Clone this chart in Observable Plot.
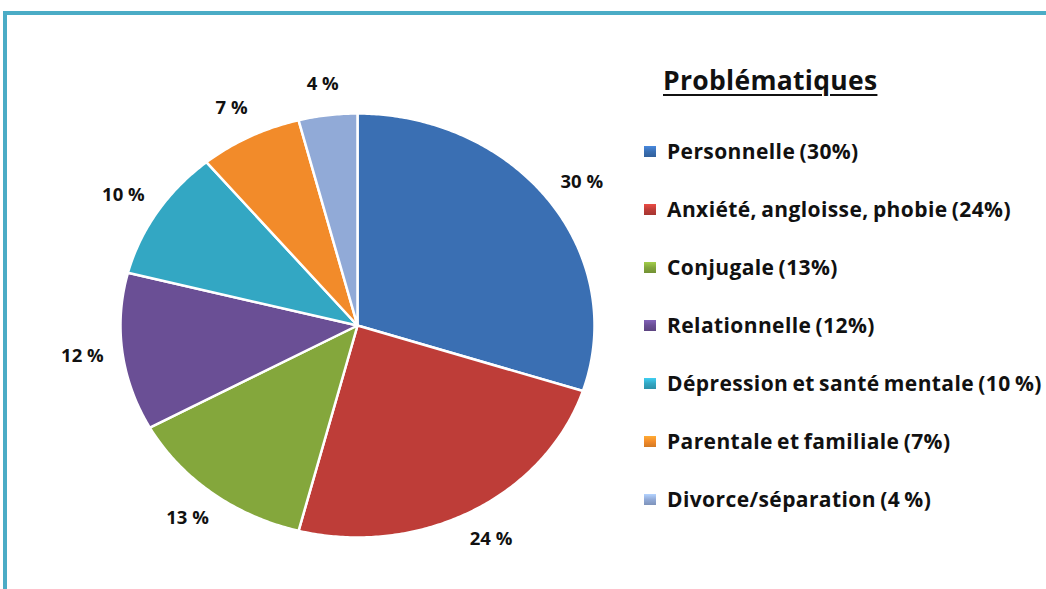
<!DOCTYPE html>
<html>
<head>
<meta charset="utf-8">
<script src="https://cdn.jsdelivr.net/npm/d3@7"></script>
<script src="https://cdn.jsdelivr.net/npm/@observablehq/plot@0.6"></script>
<style>
  html, body { margin: 0; padding: 0; background: #fff; }
  body { width: 1046px; height: 589px; position: relative; overflow: hidden; font-family: "Open Sans", "DejaVu Sans", sans-serif; }
  #frame { position: absolute; left: 3px; top: 11px; width: 1060px; height: 600px; border-top: 4px solid #4bacc6; border-left: 4px solid #4bacc6; box-sizing: border-box; }
  #chart { position: absolute; left: 0; top: 0; }
  #legend { position: absolute; left: 644px; top: 60px; }
  #legend h2 { margin: 0 0 0 19px; font-size: 26.5px; font-weight: 700; letter-spacing: 0.3px; text-decoration: underline; text-decoration-thickness: 2px; text-underline-offset: 4px; color: #111; line-height: 40px; white-space: nowrap; }
  .item { position: absolute; left: 0; white-space: nowrap; font-size: 21px; line-height: 28px; font-weight: 700; letter-spacing: 0.4px; word-spacing: -1.6px; color: #111; display: flex; align-items: center; }
  .sw { width: 12px; height: 11px; margin-right: 11px; display: inline-block; }
</style>
</head>
<body>
<div id="frame"></div>
<div id="chart"></div>
<div id="legend"></div>
<script>
// ---- data ----
const categories = ["Personnelle", "Anxiété, angloisse, phobie", "Conjugale", "Relationnelle", "Dépression et santé mentale", "Parentale et familiale", "Divorce/séparation"];
const values = [30, 24, 13, 12, 10, 7, 4];
const legendLabels = ["Personnelle (30%)", "Anxiété, angloisse, phobie (24%)", "Conjugale (13%)", "Relationnelle (12%)", "Dépression et santé mentale (10 %)", "Parentale et familiale (7%)", "Divorce/séparation (4 %)"];
const pctLabels = ["30 %", "24 %", "13 %", "12 %", "10 %", "7 %", "4 %"];
const colors = ["#3a6fb3", "#be3d38", "#84a73c", "#6a4f95", "#33a7c3", "#f28b2a", "#91aad7"];
const title = "Problématiques";

// ---- build table ----
const rows = categories.map((c, i) => ({name: c, value: values[i], label: pctLabels[i]}));
const arcs = d3.pie().sort(null).value(d => d.value)(rows);
const slicePts = arcs.flatMap(p => {
  const n = Math.max(4, Math.ceil((p.endAngle - p.startAngle) / 0.01));
  const pts = [{x: 0, y: 0, name: p.data.name}];
  for (let i = 0; i <= n; i++) {
    const a = p.startAngle + (p.endAngle - p.startAngle) * i / n;
    pts.push({x: Math.sin(a), y: Math.cos(a), name: p.data.name});
  }
  return pts;
});
const labelPts = arcs.map(p => {
  const m = (p.startAngle + p.endAngle) / 2;
  return {x: 1.17 * Math.sin(m), y: 1.15 * Math.cos(m), text: p.data.label};
});

const chart = Plot.plot({
  width: 1046,
  height: 589,
  margin: 0,
  x: {domain: [-1, 1], range: [120, 594], axis: null},
  y: {domain: [-1, 1], range: [537, 113], axis: null},
  color: {domain: categories, range: colors},
  style: {background: "transparent", fontFamily: "Open Sans, sans-serif"},
  marks: [
    Plot.line(slicePts, {x: "x", y: "y", z: "name", fill: "name", stroke: "white", strokeWidth: 2.5, curve: "linear-closed"}),
    Plot.text(labelPts, {x: "x", y: "y", text: "text", fontSize: 18.5, fontWeight: "bold", fill: "#111"})
  ]
});
document.getElementById("chart").appendChild(chart);

// ---- legend ----
const legend = document.getElementById("legend");
const h = document.createElement("h2");
h.textContent = title;
legend.appendChild(h);
legendLabels.forEach((t, i) => {
  const d = document.createElement("div");
  d.className = "item";
  d.style.top = (77 + i * 58) + "px";
  const s = document.createElement("span");
  s.className = "sw";
  s.style.background = `linear-gradient(${d3.color(colors[i]).brighter(0.6)}, ${colors[i]} 50%, ${d3.color(colors[i]).darker(0.4)})`;
  d.appendChild(s);
  d.appendChild(document.createTextNode(t));
  legend.appendChild(d);
});
</script>
</body>
</html>
